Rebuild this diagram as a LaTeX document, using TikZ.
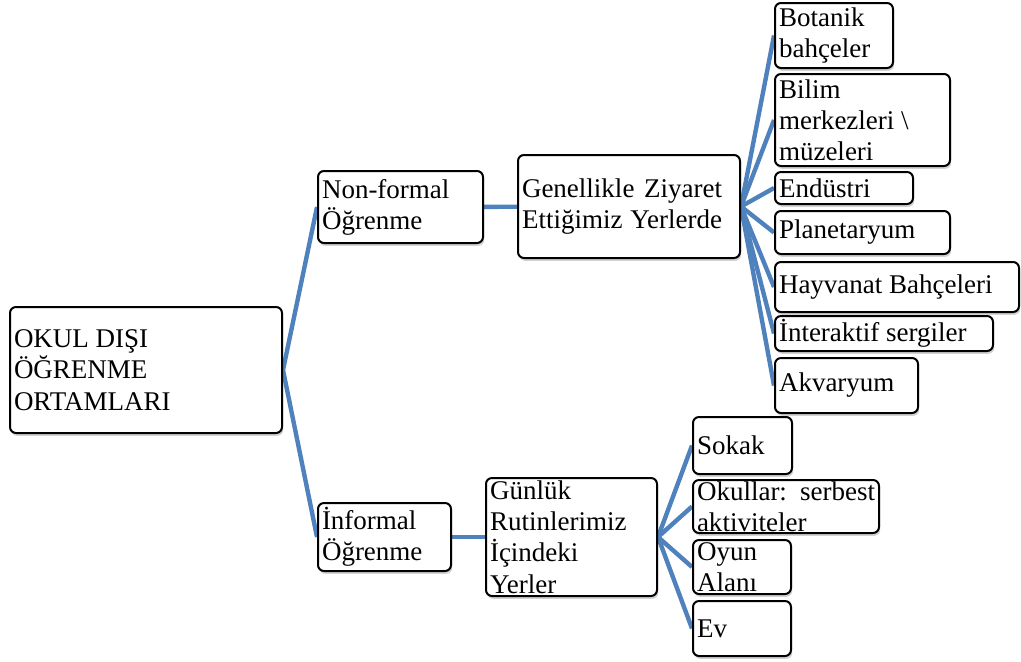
\documentclass[tikz,border=0pt]{standalone}
\usepackage{fontspec}
\setmainfont{Liberation Serif}
\usetikzlibrary{shadows,backgrounds}

\definecolor{one}{HTML}{4F81BD}
\definecolor{two}{HTML}{7F7F7F}

\begin{document}
\begin{tikzpicture}[x=0.5pt, y=-0.5pt,
  box/.style={draw=black, line width=1pt, rounded corners=3pt, fill=white,
    inner xsep=2pt, inner ysep=0pt, align=flush left,
    font=\fontsize{13.5}{15.6}\selectfont,
    drop shadow={shadow xshift=0.6pt, shadow yshift=-1.4pt, opacity=0.35, fill=two}},
  link/.style={draw=one, line width=2.2pt}]

\useasboundingbox (0,0) rectangle (1021,661);

\draw

(146,370) node[box, text width=132pt, minimum height=63pt] (O) {OKUL DIŞI\\ÖĞRENME\\ORTAMLARI}

(400.5,207) node[box, text width=78.5pt, minimum height=36pt] (N) {Non-formal\\Öğrenme}
(629,206.5) node[box, text width=107pt, minimum height=51.5pt] (G) {\makebox[100pt][s]{Genellikle Ziyaret}\\\makebox[100pt][s]{Ettiğimiz Yerlerde}}
(834,35.5) node[box, text width=55pt, minimum height=32.5pt] (B1) {Botanik\\bahçeler}
(862.5,120) node[box, text width=83.5pt, minimum height=46pt] (B2) {Bilim\\merkezleri \textbackslash\\müzeleri}
(844,188) node[box, text width=65pt, minimum height=16pt] (B3) {Endüstri}
(862.5,232.5) node[box, text width=83.5pt, minimum height=21.5pt] (B4) {Planetaryum}
(897,287) node[box, text width=118pt, minimum height=25pt] (B5) {Hayvanat Bahçeleri}
(884,333.5) node[box, text width=105pt, minimum height=17.5pt] (B6) {İnteraktif sergiler}
(846.5,385.5) node[box, text width=67.5pt, minimum height=27.5pt] (B7) {Akvaryum}

(384.5,537) node[box, text width=62.5pt, minimum height=34pt] (I) {İnformal\\Öğrenme}
(571.5,537) node[box, text width=81.5pt, minimum height=59pt] (R) {Günlük\\Rutinlerimiz\\İçindeki\\Yerler}
(742.5,445.5) node[box, text width=45.5pt, minimum height=28.5pt] (S1) {Sokak}
(786,506.5) node[box, text width=89pt, minimum height=26.5pt] (S2) {\makebox[89pt][s]{Okullar: serbest}\\aktiviteler}
(742,567) node[box, text width=45pt, minimum height=27pt] (S3) {Oyun\\Alanı}
(742,628.5) node[box, text width=45pt, minimum height=27.5pt] (S4) {Ev};

\begin{scope}[on background layer]
\draw[link] (O.east) edge (N.west) edge (I.west);
\draw[link] (N) edge (G);
\draw[link] (G.east) edge (B1.west) edge (B2.west) edge (B3.west) edge (B4.west)
  edge (B5.west) edge (B6.west) edge (B7.west);
\draw[link] (I) edge (R);
\draw[link] (R.east) edge (S1.west) edge (S2.west) edge (S3.west) edge (S4.west);
\end{scope}
\end{tikzpicture}
\end{document}
